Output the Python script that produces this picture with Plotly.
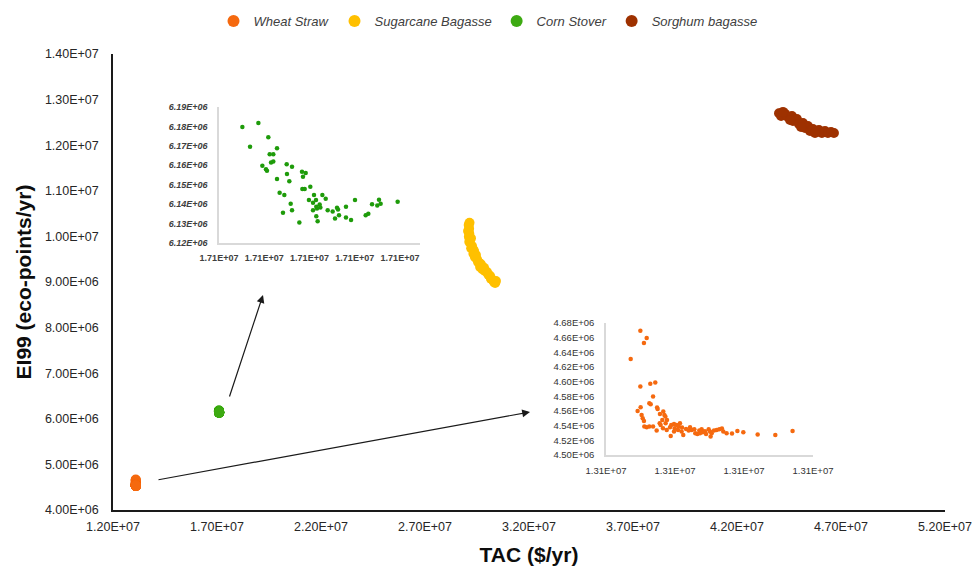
import plotly.graph_objects as go

# ---------------- data ----------------
wheat_x = [13091790, 13092490, 13092750, 13092950, 13092490, 13093210, 13093570, 13092510,
           13092290, 13093410, 13093140, 13093240, 13093700, 13093740, 13092580, 13092660,
           13092750, 13092780, 13092950, 13093140, 13093410, 13093670, 13093910, 13094150,
           13094230, 13094300, 13094080, 13093890, 13093960, 13094320, 13094420, 13094130,
           13094400, 13094640, 13094730, 13094930, 13094690, 13094980, 13095120, 13095270,
           13094930, 13095220, 13095510, 13095480, 13095600, 13095800, 13096090, 13096210,
           13096400, 13096470, 13096620, 13096760, 13096930, 13097000, 13097170, 13097250,
           13097440, 13097540, 13097580, 13097660, 13097830, 13098020, 13098210, 13098400,
           13098500, 13098740, 13099130, 13099520, 13099950, 13100990, 13102270, 13103520,
           13095360, 13095990, 13096810]
wheat_y = [4630790, 4669520, 4652660, 4659500, 4593420, 4597060, 4598890, 4565170,
           4560150, 4579750, 4570630, 4569270, 4564710, 4562890, 4554680, 4550130,
           4546480, 4538740, 4537820, 4538740, 4538740, 4533270, 4556050, 4559240,
           4554680, 4552410, 4547850, 4543290, 4541010, 4543290, 4547850, 4536460,
           4534180, 4537820, 4541010, 4542380, 4525980, 4536460, 4541010, 4538740,
           4531900, 4534180, 4537370, 4531900, 4527340, 4535550, 4537820, 4534180,
           4535090, 4529620, 4528710, 4533270, 4535090, 4530990, 4532360, 4528710,
           4535090, 4531900, 4525060, 4529620, 4533270, 4534180, 4535090, 4536000,
           4531900, 4529620, 4529170, 4532810, 4530990, 4527800, 4527340, 4532810,
           4543290, 4533270, 4529620]

corn_x = [17092580, 17094350, 17093430, 17095450, 17096410, 17095600, 17096000, 17094790,
          17095190, 17095300, 17095750, 17096000, 17097480, 17098070, 17097510, 17096410,
          17097770, 17099170, 17099580, 17099280, 17096700, 17097220, 17099210, 17099470,
          17100090, 17097920, 17098070, 17097070, 17099940, 17100500, 17100390, 17100720,
          17101420, 17101790, 17100750, 17101120, 17101200, 17100830, 17100390, 17100750,
          17100900, 17098880, 17102010, 17102560, 17103040, 17103150, 17102820, 17103260,
          17104030, 17104030, 17104590, 17105030, 17106210, 17106500, 17106910, 17107490,
          17107680, 17107860, 17109740]
corn_y = [6179650, 6181720, 6169480, 6174480, 6168790, 6165690, 6165690, 6159820,
          6157930, 6157240, 6161380, 6161890, 6160510, 6159310, 6155510, 6152930,
          6151720, 6156720, 6156030, 6154140, 6145860, 6144650, 6147760, 6147760,
          6148960, 6140170, 6136900, 6135520, 6142070, 6144650, 6140690, 6142070,
          6144650, 6142760, 6138620, 6139830, 6138270, 6137760, 6136900, 6133790,
          6131210, 6130520, 6136900, 6136210, 6138100, 6137240, 6132590, 6134310,
          6138620, 6133100, 6131900, 6142070, 6134310, 6135000, 6140000, 6139310,
          6142240, 6140170, 6141210]

sugar_x = [29140000, 29100000, 29120000, 29070000, 29130000, 29110000, 29160000, 29130000,
           29210000, 29260000, 29220000, 29310000, 29360000, 29330000, 29450000, 29400000,
           29500000, 29550000, 29600000, 29690000, 29650000, 29760000, 29840000, 29880000,
           29980000, 30050000, 30130000, 30170000, 30270000, 30320000, 30370000, 30410000]
sugar_y = [10300000, 10250000, 10170000, 10120000, 10060000, 9990000, 9920000, 9880000,
           9960000, 9790000, 9740000, 9720000, 9680000, 9620000, 9590000, 9550000,
           9500000, 9440000, 9420000, 9390000, 9330000, 9280000, 9310000, 9240000,
           9220000, 9160000, 9130000, 9070000, 9040000, 9000000, 8980000, 9020000]

sorghum_x = [44020000, 44120000, 44310000, 44450000, 44640000, 44690000, 44880000, 44980000,
             45170000, 45270000, 45410000, 45510000, 45650000, 45800000, 45940000, 46080000,
             46230000, 46370000, 46520000, 46660000, 44210000, 44550000, 45080000, 45750000]
sorghum_y = [12700000, 12640000, 12690000, 12618000, 12640000, 12531000, 12575000, 12465000,
             12487000, 12377000, 12421000, 12311000, 12355000, 12289000, 12333000, 12268000,
             12311000, 12268000, 12289000, 12268000, 12730000, 12553000, 12399000, 12268000]

series_names = ["Wheat Straw", "Sugarcane Bagasse", "Corn Stover", "Sorghum bagasse"]

main_x_ticks = [1.2e7, 1.7e7, 2.2e7, 2.7e7, 3.2e7, 3.7e7, 4.2e7, 4.7e7, 5.2e7]
main_x_labels = ["1.20E+07", "1.70E+07", "2.20E+07", "2.70E+07", "3.20E+07",
                 "3.70E+07", "4.20E+07", "4.70E+07", "5.20E+07"]
main_y_ticks = [4e6, 5e6, 6e6, 7e6, 8e6, 9e6, 1e7, 1.1e7, 1.2e7, 1.3e7, 1.4e7]
main_y_labels = ["4.00E+06", "5.00E+06", "6.00E+06", "7.00E+06", "8.00E+06", "9.00E+06",
                 "1.00E+07", "1.10E+07", "1.20E+07", "1.30E+07", "1.40E+07"]

corn_inset_x_ticks = [17090000, 17095000, 17100000, 17105000, 17110000]
corn_inset_x_labels = ["1.71E+07"] * 5
corn_inset_y_ticks = [6120000, 6130000, 6140000, 6150000, 6160000, 6170000, 6180000, 6190000]
corn_inset_y_labels = ["6.12E+06", "6.13E+06", "6.14E+06", "6.15E+06",
                       "6.16E+06", "6.17E+06", "6.18E+06", "6.19E+06"]

wheat_inset_x_ticks = [13090000, 13095000, 13100000, 13105000]
wheat_inset_x_labels = ["1.31E+07"] * 4
wheat_inset_y_ticks = [4500000, 4520000, 4540000, 4560000, 4580000, 4600000,
                       4620000, 4640000, 4660000, 4680000]
wheat_inset_y_labels = ["4.50E+06", "4.52E+06", "4.54E+06", "4.56E+06", "4.58E+06",
                        "4.60E+06", "4.62E+06", "4.64E+06", "4.66E+06", "4.68E+06"]

# ---------------- styling ----------------
C_WHEAT = "#F5690F"
C_SUGAR = "#FFC000"
C_CORN = "#3DAA12"
C_SORGHUM = "#9E3100"
FONT = "Liberation Sans, Arial, sans-serif"

W, H = 973, 573
M_L, M_R, M_T, M_B = 113, 28, 0, 63
PAPER_H = H - M_T - M_B          # 510 px of paper height
PLOT_TOP = 54                    # pixel row of the top of the main plot area


def py(v):
    """pixel row -> paper fraction (layout helper, not data)"""
    return (PAPER_H - v) / PAPER_H


def px(v):
    return (v - M_L) / (W - M_L - M_R)


fig = go.Figure()

main_sets = [(wheat_x, wheat_y, C_WHEAT), (sugar_x, sugar_y, C_SUGAR),
             (corn_x, corn_y, C_CORN), (sorghum_x, sorghum_y, C_SORGHUM)]
for (xs, ys, col), nm in zip(main_sets, series_names):
    fig.add_trace(go.Scatter(x=xs, y=ys, mode="markers", name=nm,
                             marker=dict(size=10, color=col, line=dict(width=0))))

# insets
fig.add_trace(go.Scatter(x=corn_x, y=corn_y, mode="markers", showlegend=False,
                         xaxis="x2", yaxis="y2",
                         marker=dict(size=4.5, color="#1E9B0A", line=dict(width=0))))
fig.add_trace(go.Scatter(x=wheat_x, y=wheat_y, mode="markers", showlegend=False,
                         xaxis="x3", yaxis="y3",
                         marker=dict(size=4.5, color=C_WHEAT, line=dict(width=0))))

inset_common = dict(showgrid=False, zeroline=False, showline=True,
                    linecolor="#D9D9D9", linewidth=1.5, ticks="")

fig.update_layout(
    template="none",
    width=W, height=H,
    margin=dict(l=M_L, r=M_R, t=M_T, b=M_B, pad=0, autoexpand=False),
    paper_bgcolor="white", plot_bgcolor="rgba(0,0,0,0)",
    font=dict(family=FONT, color="#262626"),
    showlegend=True,
    legend=dict(orientation="h", x=px(488), xanchor="center", y=py(21), yanchor="middle",
                font=dict(size=13, style="italic", color="#404040"),
                bgcolor="rgba(0,0,0,0)", itemsizing="constant"),
    xaxis=dict(range=[1.2e7, 5.2e7], tickvals=main_x_ticks, ticktext=main_x_labels,
               showgrid=False, zeroline=False, showline=True, linecolor="#1a1a1a",
               linewidth=1.5, ticks="", ticklabelstandoff=4,
               tickfont=dict(size=12.5, color="#262626"),
               title=dict(text="TAC ($/yr)", standoff=15,
                          font=dict(size=21, weight="bold", color="#0d0d0d"))),
    yaxis=dict(domain=[0, py(PLOT_TOP)], range=[4e6, 1.4e7],
               tickvals=main_y_ticks, ticktext=main_y_labels,
               showgrid=False, zeroline=False, showline=True, linecolor="#1a1a1a",
               linewidth=1.5, ticks="", ticklabelstandoff=10,
               tickfont=dict(size=12.5, color="#262626"),
               title=dict(text="EI99 (eco-points/yr)", standoff=8,
                          font=dict(size=21, weight="bold", color="#0d0d0d"))),
    xaxis2=dict(domain=[px(219), px(420)], anchor="y2", range=[17090000, 17112210],
                tickvals=corn_inset_x_ticks, ticktext=corn_inset_x_labels,
                ticklabelstandoff=5,
                tickfont=dict(size=9, weight="bold", color="#404040"), **inset_common),
    yaxis2=dict(domain=[py(243), py(107)], anchor="x2", range=[6120000, 6190000],
                tickvals=corn_inset_y_ticks, ticktext=corn_inset_y_labels,
                ticklabelstandoff=8,
                tickfont=dict(size=9, weight="bold", style="italic", color="#404040"),
                **inset_common),
    xaxis3=dict(domain=[px(606), px(813)], anchor="y3", range=[13090000, 13105000],
                tickvals=wheat_inset_x_ticks, ticktext=wheat_inset_x_labels,
                ticklabelstandoff=6,
                tickfont=dict(size=9.5, color="#333333"), **inset_common),
    yaxis3=dict(domain=[py(455), py(323)], anchor="x3", range=[4500000, 4680000],
                tickvals=wheat_inset_y_ticks, ticktext=wheat_inset_y_labels,
                ticklabelstandoff=8,
                tickfont=dict(size=9.5, color="#333333"), **inset_common),
)

# arrows pointing from the clusters to their insets
fig.add_annotation(x=px(263), y=py(295), xref="paper", yref="paper", text="",
                   showarrow=True, ax=-34, ay=103, arrowhead=2, arrowsize=1.3,
                   arrowwidth=1.2, arrowcolor="#1a1a1a")
fig.add_annotation(x=px(530), y=py(412), xref="paper", yref="paper", text="",
                   showarrow=True, ax=-373, ay=68, arrowhead=2, arrowsize=1.3,
                   arrowwidth=1.2, arrowcolor="#1a1a1a")

fig.write_html("out.html", config={"displayModeBar": False},
               post_script="document.body.style.margin='0';")
